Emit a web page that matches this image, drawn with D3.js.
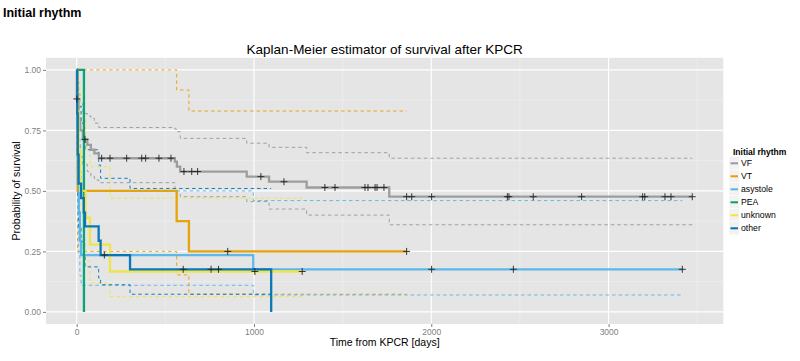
<!DOCTYPE html>
<html><head><meta charset="utf-8">
<script src="https://cdn.jsdelivr.net/npm/d3@7"></script>
<style>body{margin:0;background:#fff}svg{display:block;font-family:"Liberation Sans",Arial,sans-serif}</style>
</head><body><svg id="c" width="800" height="361"></svg>
<script>
// ---- data ----
const groupNames = ["VF", "VT", "asystole", "PEA", "unknown", "other"];
const groupColors = ["#999999", "#E69F00", "#56B4E9", "#009E73", "#F0E442", "#0072B2"];
const xTicks = [0, 1000, 2000, 3000];
const yTicks = [0, 0.25, 0.5, 0.75, 1];
const yTickLabels = ["0.00", "0.25", "0.50", "0.75", "1.00"];

const vfTime   = [0, 1, 10, 20, 35, 60, 80, 100, 125, 554, 565, 584, 959, 1085, 1297, 1763];
const vfSurv   = [1, 0.88, 0.80, 0.75, 0.713, 0.69, 0.67, 0.655, 0.635, 0.621, 0.60, 0.58, 0.559, 0.538, 0.514, 0.476];
const vfUpper  = [1, 0.96, 0.90, 0.86, 0.82, 0.81, 0.80, 0.78, 0.762, 0.755, 0.745, 0.717, 0.697, 0.68, 0.658, 0.635];
const vfLower  = [1, 0.80, 0.70, 0.64, 0.61, 0.58, 0.56, 0.545, 0.534, 0.51, 0.49, 0.476, 0.456, 0.425, 0.40, 0.36];
const vfCensor = [1, 47, 141, 188, 282, 367, 389, 464, 532, 605, 649, 682, 1039, 1169, 1400, 1457, 1626, 1643, 1683, 1694, 1733, 1861, 1890, 2002, 2429, 2438, 2575, 2848, 3192, 3204, 3318, 3352, 3472];

const vtTime   = [0, 5, 564, 633];
const vtSurv   = [1, 0.5, 0.375, 0.25];
const vtUpper  = [1, 1, 0.917, 0.83];
const vtLower  = [1, 0.25, 0.153, 0.073];
const vtCensor = [852, 1861];

const asyTime   = [0, 3, 7, 12, 18, 25, 996];
const asySurv   = [1, 0.765, 0.53, 0.41, 0.294, 0.235, 0.176];
const asyUpper  = [1, 1, 0.85, 0.72, 0.58, 0.50, 0.46];
const asyLower  = [1, 0.58, 0.35, 0.24, 0.15, 0.11, 0.07];
const asyCensor = [2002, 2463, 3416];

const peaTime   = [0, 41];
const peaSurv   = [1, 0];
const peaUpper  = [];
const peaLower  = [];
const peaCensor = [];

const unkTime   = [0, 3, 10, 20, 50, 75, 188];
const unkSurv   = [1, 0.83, 0.67, 0.5, 0.389, 0.278, 0.167];
const unkUpper  = [1, 1, 0.95, 0.80, 0.68, 0.60, 0.47];
const unkLower  = [1, 0.67, 0.48, 0.30, 0.21, 0.12, 0.063];
const unkCensor = [1005, 1272];

const othTime   = [0, 3, 6, 11, 25, 40, 47, 124, 135, 301, 1097];
const othSurv   = [1, 0.82, 0.65, 0.53, 0.47, 0.41, 0.353, 0.294, 0.235, 0.176, 0];
const othUpper  = [1, 1, 0.95, 0.85, 0.78, 0.72, 0.67, 0.607, 0.552, 0.51, null];
const othLower  = [1, 0.66, 0.47, 0.35, 0.29, 0.24, 0.186, 0.14, 0.112, 0.073, null];
const othCensor = [156, 601, 758, 800];

const series = [
  {time: vfTime, surv: vfSurv, upper: vfUpper, lower: vfLower, censor: vfCensor},
  {time: vtTime, surv: vtSurv, upper: vtUpper, lower: vtLower, censor: vtCensor},
  {time: asyTime, surv: asySurv, upper: asyUpper, lower: asyLower, censor: asyCensor},
  {time: peaTime, surv: peaSurv, upper: peaUpper, lower: peaLower, censor: peaCensor},
  {time: unkTime, surv: unkSurv, upper: unkUpper, lower: unkLower, censor: unkCensor},
  {time: othTime, surv: othSurv, upper: othUpper, lower: othLower, censor: othCensor}
].map((s, i) => Object.assign(s, {name: groupNames[i], color: groupColors[i],
  end: Math.max(s.time[s.time.length - 1], s.censor.length ? d3.max(s.censor) : 0)}));

// ---- layout ----
const svg = d3.select("#c");
const P = {l: 46, r: 723.3, t: 57.8, b: 324};
const x = d3.scaleLinear().domain([-173, 3647]).range([P.l, P.r]);
const y = d3.scaleLinear().domain([-0.05, 1.05]).range([P.b, P.t]);

svg.append("text").attr("x", 3).attr("y", 17).attr("font-size", 12.5).attr("font-weight", "bold")
  .text("Initial rhythm");
svg.append("text").attr("x", (P.l + P.r) / 2).attr("y", 54).attr("text-anchor", "middle")
  .attr("font-size", 13.5).text("Kaplan-Meier estimator of survival after KPCR");

svg.append("rect").attr("x", P.l).attr("y", P.t).attr("width", P.r - P.l).attr("height", P.b - P.t)
  .attr("fill", "#E5E5E5");

const g = svg.append("g");
const minorX = [-500, 500, 1500, 2500, 3500].filter(v => x(v) > P.l && x(v) < P.r);
const minorY = [-0.125, 0.125, 0.375, 0.625, 0.875, 1.125].filter(v => y(v) < P.b && y(v) > P.t);
g.selectAll(".mx").data(minorX).join("line").attr("x1", d => x(d)).attr("x2", d => x(d))
  .attr("y1", P.t).attr("y2", P.b).attr("stroke", "#F2F2F2").attr("stroke-width", 0.6);
g.selectAll(".my").data(minorY).join("line").attr("y1", d => y(d)).attr("y2", d => y(d))
  .attr("x1", P.l).attr("x2", P.r).attr("stroke", "#F2F2F2").attr("stroke-width", 0.6);
g.selectAll(".Mx").data(xTicks).join("line").attr("x1", d => x(d)).attr("x2", d => x(d))
  .attr("y1", P.t).attr("y2", P.b).attr("stroke", "#fff").attr("stroke-width", 1.1);
g.selectAll(".My").data(yTicks).join("line").attr("y1", d => y(d)).attr("y2", d => y(d))
  .attr("x1", P.l).attr("x2", P.r).attr("stroke", "#fff").attr("stroke-width", 1.1);

// axes
const xAxis = svg.append("g").attr("transform", `translate(0,${P.b})`)
  .call(d3.axisBottom(x).tickValues(xTicks).tickSize(3).tickPadding(2).tickFormat(d3.format("d")));
const yAxis = svg.append("g").attr("transform", `translate(${P.l},0)`)
  .call(d3.axisLeft(y).tickValues(yTicks).tickSize(3).tickPadding(2).tickFormat((d, i) => yTickLabels[i]));
[xAxis, yAxis].forEach(a => {
  a.select(".domain").remove();
  a.selectAll(".tick line").attr("stroke", "#7F7F7F");
  a.selectAll(".tick text").attr("fill", "#7F7F7F").attr("font-size", 8.5)
    .attr("font-family", "Liberation Sans, Arial, sans-serif");
});

svg.append("text").attr("x", (P.l + P.r) / 2).attr("y", 346).attr("text-anchor", "middle")
  .attr("font-size", 10.5).text("Time from KPCR [days]");
svg.append("text").attr("transform", `translate(20,${(P.t + P.b) / 2}) rotate(-90)`)
  .attr("text-anchor", "middle").attr("font-size", 10.5).text("Probability of survival");

// ---- curves ----
function steps(times, vals, end) {
  const pts = [];
  for (let i = 0; i < times.length; i++) {
    if (vals[i] == null) { pts.push([times[i], vals[i - 1]]); return pts; }
    pts.push([times[i], vals[i]]);
  }
  pts.push([end, vals[vals.length - 1]]);
  return pts;
}
function survAt(s, t) {
  let v = s.surv[0];
  for (let i = 0; i < s.time.length; i++) if (s.time[i] <= t) v = s.surv[i];
  return v;
}
const line = d3.line().x(d => x(d[0])).y(d => y(d[1])).curve(d3.curveStepAfter);
const plot = svg.append("g");

series.forEach(s => {
  [s.upper, s.lower].forEach(b => {
    if (!b.length) return;
    plot.append("path").attr("d", line(steps(s.time, b, s.end))).attr("fill", "none")
      .attr("stroke", s.color).attr("stroke-width", 0.9).attr("stroke-dasharray", "3.5,3");
  });
});
series.forEach(s => {
  plot.append("path").attr("d", line(steps(s.time, s.surv, s.end))).attr("fill", "none")
    .attr("stroke", s.color).attr("stroke-width", 2.3).attr("stroke-opacity", 0.95);
});
series.forEach(s => {
  s.censor.forEach(t => {
    const cx = x(t), cy = y(survAt(s, t));
    plot.append("path").attr("d", `M${cx - 3.5},${cy}H${cx + 3.5}M${cx},${cy - 3.5}V${cy + 3.5}`)
      .attr("stroke", "#222").attr("stroke-width", 0.9);
  });
});

// ---- legend ----
const lg = svg.append("g");
lg.append("text").attr("x", 733).attr("y", 155).attr("font-size", 8.5).attr("font-weight", "bold")
  .text("Initial rhythm");
series.forEach((s, i) => {
  const cy = 163.3 + i * 13;
  lg.append("rect").attr("x", 729).attr("y", cy - 6.5).attr("width", 10.5).attr("height", 13)
    .attr("fill", "#F2F2F2").attr("stroke", "#fff").attr("stroke-width", 0.5);
  lg.append("line").attr("x1", 730.5).attr("x2", 738).attr("y1", cy).attr("y2", cy)
    .attr("stroke", s.color).attr("stroke-width", 2);
  lg.append("text").attr("x", 741).attr("y", cy + 3).attr("font-size", 8.7).text(s.name);
});
</script>
</body></html>
